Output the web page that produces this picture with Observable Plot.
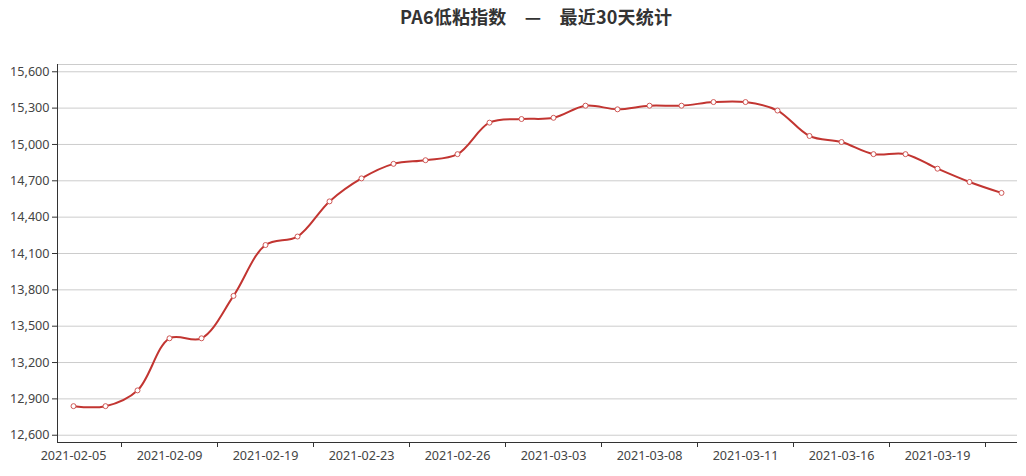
<!DOCTYPE html>
<html><head><meta charset="utf-8">
<script src="https://cdn.jsdelivr.net/npm/d3@7"></script>
<script src="https://cdn.jsdelivr.net/npm/@observablehq/plot@0.6"></script>
<style>
body{margin:0;background:#fff;font-family:"Noto Sans CJK SC","Noto Sans",sans-serif;}
#title{height:40px;position:relative;}
#title span{position:absolute;left:400px;top:4px;font-size:18px;font-weight:bold;color:#333;white-space:pre;line-height:24px;letter-spacing:0.2px;}
#chart svg{display:block;}
</style></head><body>
<div id="title"><span>PA6低粘指数　—　最近30天统计</span></div>
<div id="chart"></div>
<script>
const dates = ["2021-02-05","2021-02-07","2021-02-08","2021-02-09","2021-02-10","2021-02-18",
  "2021-02-19","2021-02-20","2021-02-22","2021-02-23","2021-02-24","2021-02-25",
  "2021-02-26","2021-03-01","2021-03-02","2021-03-03","2021-03-04","2021-03-05",
  "2021-03-08","2021-03-09","2021-03-10","2021-03-11","2021-03-12","2021-03-15",
  "2021-03-16","2021-03-17","2021-03-18","2021-03-19","2021-03-22","2021-03-23"];
const values = [12840,12840,12970,13400,13400,13750,14170,14240,14530,14720,14840,14870,
  14920,15180,15210,15220,15320,15290,15320,15320,15350,15350,15280,15070,
  15020,14920,14920,14800,14690,14600];
const labelIndex = [0,3,6,9,12,15,18,21,24,27];
const boundaryTicks = [1.5,4.5,7.5,10.5,13.5,16.5,19.5,22.5,25.5,28.5];
const yTicks = [12600,12900,13200,13500,13800,14100,14400,14700,15000,15300,15600];
const yDomain = [12540,15660];

const data = dates.map((d,i)=>({i, date:d, value: values[i]}));
const fmt = d3.format(",");
const chart = Plot.plot({
  width:1026, height:436, marginTop:24, marginBottom:34, marginLeft:57, marginRight:9,
  style:{fontFamily:'"Noto Sans","Noto Sans CJK SC",sans-serif', fontSize:"12.6px", color:"#333", background:"white", overflow:"visible"},
  x:{type:"linear", domain:[-0.5, dates.length-0.5]},
  y:{domain:yDomain},
  marks:[
    Plot.gridY(yTicks,{stroke:"#ccc", strokeOpacity:1}),
    Plot.ruleY([yDomain[1]],{stroke:"#ccc"}),
    Plot.axisY(yTicks,{tickFormat:d=>fmt(d), tickSize:5, tickPadding:3, stroke:"#333", fill:"#444", label:null}),
    Plot.axisX(labelIndex,{tickFormat:i=>dates[i], tickSize:0, tickPadding:9, fill:"#444", label:null}),
    Plot.axisX(boundaryTicks,{tickFormat:()=>"", tickSize:5, stroke:"#333", label:null}),
    Plot.ruleY([yDomain[0]],{stroke:"#333"}),
    Plot.ruleX([-0.5],{stroke:"#333"}),
    Plot.line(data,{x:"i", y:"value", curve:"catmull-rom", stroke:"#c23531", strokeWidth:2}),
    Plot.dot(data,{x:"i", y:"value", r:2.5, fill:"white", stroke:"#cf5856", strokeWidth:1})
  ]
});
document.getElementById("chart").append(chart);
</script>
</body></html>
